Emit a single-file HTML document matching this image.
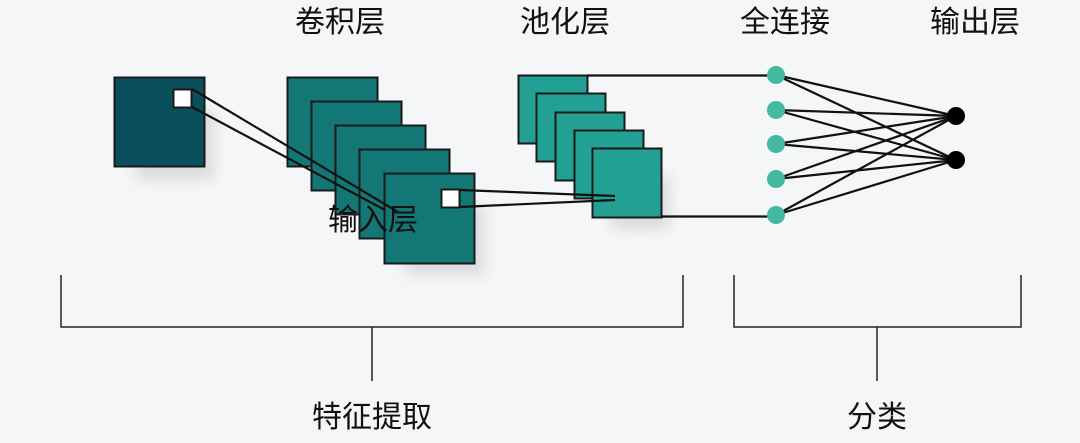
<!DOCTYPE html>
<html><head><meta charset="utf-8"><style>
html,body{margin:0;padding:0;background:#f4f6f8;}
svg{display:block;}
text{font-family:"Liberation Sans","Noto Sans CJK SC",sans-serif;font-size:30px;fill:#111;text-anchor:middle;}
</style></head><body>
<svg width="1080" height="443" viewBox="0 0 1080 443">
<defs><filter id="sh" x="-30%" y="-30%" width="160%" height="160%"><feGaussianBlur stdDeviation="7"/></filter></defs>
<g fill="#000" opacity="0.1" filter="url(#sh)">
<rect x="135" y="110" width="80" height="70"/>
<rect x="405" y="205" width="80" height="70"/>
<rect x="610" y="175" width="60" height="55"/>
</g>
<rect x="114.5" y="77.5" width="90" height="89" fill="#0b4f5c" stroke="#1a1a1a" stroke-width="2"/>
<rect x="173.5" y="89.5" width="18" height="18" fill="#fff" stroke="#1a1a1a" stroke-width="2"/>
<g fill="#137776" stroke="#1a1a1a" stroke-width="2">
<rect x="287.5" y="77.5" width="90" height="89"/>
<rect x="311.5" y="101.5" width="90" height="89"/>
<rect x="335.5" y="125.5" width="90" height="89"/>
<rect x="359.5" y="149.5" width="90" height="89"/>
<rect x="384.5" y="173.5" width="90" height="90"/>
</g>
<g stroke="#111" stroke-width="2.2" fill="none">
<line x1="192" y1="89" x2="398" y2="212"/>
<line x1="192" y1="107" x2="385" y2="210"/>
</g>
<rect x="441.5" y="189.5" width="18" height="18" fill="#fff" stroke="#1a1a1a" stroke-width="2"/>
<g fill="#22a093" stroke="#1a1a1a" stroke-width="2">
<rect x="518.5" y="75.5" width="69" height="68"/>
<rect x="536.5" y="93.5" width="69" height="68"/>
<rect x="555.5" y="112.5" width="69" height="68"/>
<rect x="574.5" y="130.5" width="69" height="68"/>
<rect x="592.5" y="148.5" width="69" height="69"/>
</g>
<g stroke="#111" stroke-width="2.2" fill="none">
<line x1="460" y1="190" x2="615" y2="196"/>
<line x1="460" y1="207" x2="615" y2="200"/>
<line x1="587" y1="75.5" x2="776" y2="75.5"/>
<line x1="661" y1="216.5" x2="776" y2="216.5"/>
</g>
<g stroke="#111" stroke-width="2.2">
<line x1="776" y1="75" x2="956" y2="116"/><line x1="776" y1="75" x2="956" y2="160"/>
<line x1="776" y1="110" x2="956" y2="116"/><line x1="776" y1="110" x2="956" y2="160"/>
<line x1="776" y1="144" x2="956" y2="116"/><line x1="776" y1="144" x2="956" y2="160"/>
<line x1="776" y1="179" x2="956" y2="116"/><line x1="776" y1="179" x2="956" y2="160"/>
<line x1="776" y1="215" x2="956" y2="116"/><line x1="776" y1="215" x2="956" y2="160"/>
</g>
<g fill="#45b8a0">
<circle cx="776" cy="75" r="9"/><circle cx="776" cy="110" r="9"/><circle cx="776" cy="144" r="9"/><circle cx="776" cy="179" r="9"/><circle cx="776" cy="215" r="9"/>
</g>
<circle cx="956" cy="116" r="9" fill="#000"/><circle cx="956" cy="160" r="9" fill="#000"/>
<g stroke="#222" stroke-width="1.5" fill="none">
<polyline points="61,275 61,327 683,327 683,275"/>
<line x1="372" y1="327" x2="372" y2="381"/>
<polyline points="734,275 734,327 1021,327 1021,275"/>
<line x1="877" y1="327" x2="877" y2="381"/>
</g>
<text x="340" y="32">卷积层</text>
<text x="565" y="32">池化层</text>
<text x="785" y="32">全连接</text>
<text x="975" y="32">输出层</text>
<text x="373" y="230">输入层</text>
<text x="372" y="427">特征提取</text>
<text x="877" y="427">分类</text>
</svg>
</body></html>
